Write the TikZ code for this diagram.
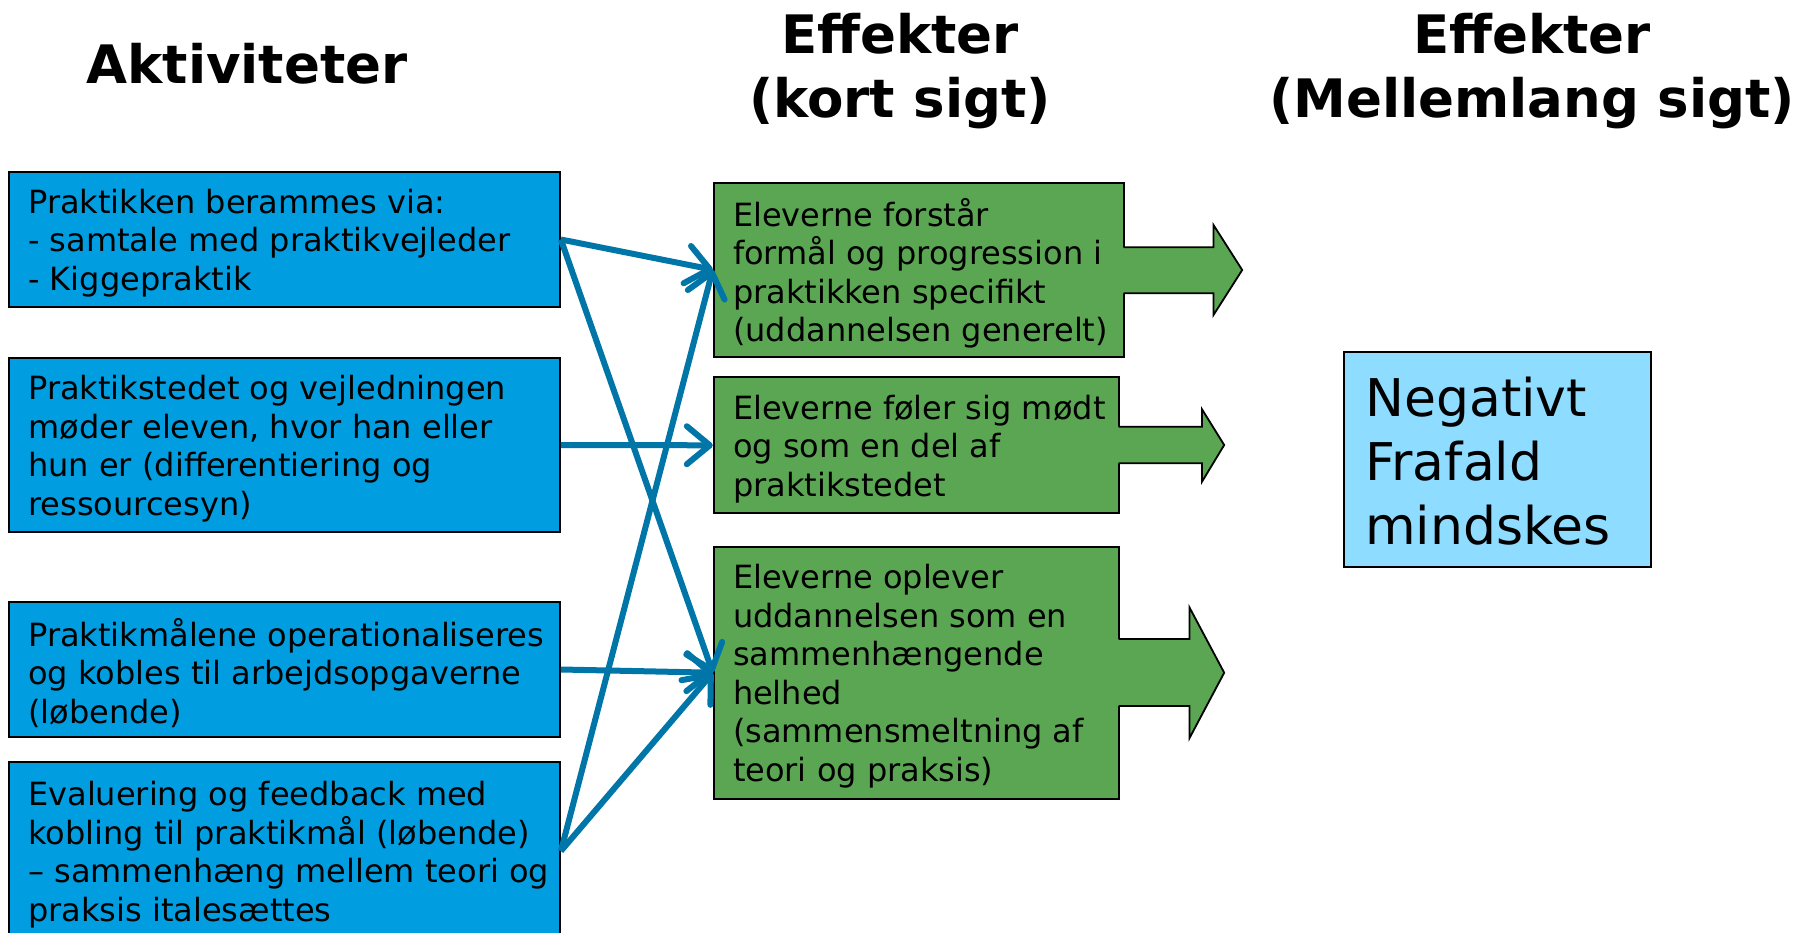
\documentclass[tikz,border=0pt]{standalone}
\usepackage{fontspec}
\setmainfont{DejaVu Sans}
\usetikzlibrary{arrows.meta}
\definecolor{actblue}{RGB}{0,158,224}
\definecolor{effgreen}{RGB}{91,166,82}
\definecolor{lightblue}{RGB}{142,220,255}
\definecolor{arrowblue}{RGB}{0,117,168}
\begin{document}
\begin{tikzpicture}[x=1pt,y=-1pt,
  actbox/.style={draw=black, line width=1.8pt, fill=actblue, minimum width=551pt, inner sep=0pt},
  effbox/.style={draw=black, line width=1.8pt, fill=effgreen, inner sep=0pt},
  outbox/.style={draw=black, line width=1.8pt, fill=lightblue, inner sep=0pt},
  bodytext/.style={anchor=west, align=left, inner sep=0pt, yshift=-3.5pt, font=\fontsize{32}{38.6}\selectfont},
  bigtext/.style={anchor=west, align=left, inner sep=0pt, yshift=-1.5pt, font=\fontsize{52}{64}\selectfont},
  heading/.style={align=center, inner sep=0pt, font=\fontsize{53}{64}\selectfont\bfseries},
  arrowfill/.style={fill=effgreen},
  arrowline/.style={draw=black, line width=1.8pt, line join=miter},
  conn/.style={draw=arrowblue, line width=6pt, -{Straight Barb[length=23pt,width=38pt,round]}}
]
\useasboundingbox (0,0) rectangle (1800,933);
\fill[white] (0,0) rectangle (1800,933);

% headings
\node[heading, anchor=base] (h1) at (247,84) {Aktiviteter};
\node[heading] (h2) at (900,71) {Effekter\\(kort sigt)};
\node[heading] (h3) at (1532,71) {Effekter\\(Mellemlang sigt)};

% activity boxes
\node[actbox, minimum height=135pt] (A1) at (284.5,239.5) {};
\node[bodytext] (tA1) at ([xshift=20pt]A1.west) {Praktikken berammes via:\\- samtale med praktikvejleder\\- Kiggepraktik};
\node[actbox, minimum height=174pt] (A2) at (284.5,445) {};
\node[bodytext] (tA2) at ([xshift=20pt]A2.west) {Praktikstedet og vejledningen\\møder eleven, hvor han eller\\hun er (differentiering og\\ressourcesyn)};
\node[actbox, minimum height=135pt] (A3) at (284.5,669.5) {};
\node[bodytext] (tA3) at ([xshift=20pt]A3.west) {Praktikmålene operationaliseres\\og kobles til arbejdsopgaverne\\(løbende)};
\node[actbox, minimum height=178pt] (A4) at (284.5,851) {};
\node[bodytext] (tA4) at ([xshift=20pt]A4.west) {Evaluering og feedback med\\kobling til praktikmål (løbende)\\– sammenhæng mellem teori og\\praksis italesættes};

% effect boxes
\node[effbox, minimum width=410pt, minimum height=174pt] (G1) at (918.7,269.7) {};
\fill[arrowfill] (1121,247.3) -- (1213.5,247.3) -- (1213.5,225) -- (1242.2,270) -- (1213.5,315) -- (1213.5,293.3) -- (1121,293.3) -- cycle;
\draw[arrowline] (1123.6,247.3) -- (1213.5,247.3) -- (1213.5,225) -- (1242.2,270) -- (1213.5,315) -- (1213.5,293.3) -- (1123.6,293.3);
\node[bodytext] (tG1) at ([xshift=20pt]G1.west) {Eleverne forstår\\formål og progression i\\praktikken specifikt\\(uddannelsen generelt)};

\node[effbox, minimum width=405pt, minimum height=136pt] (G2) at (916.2,445.3) {};
\fill[arrowfill] (1116,426.7) -- (1202,426.7) -- (1202,409.3) -- (1224.2,445) -- (1202,481.7) -- (1202,463.3) -- (1116,463.3) -- cycle;
\draw[arrowline] (1118.6,426.7) -- (1202,426.7) -- (1202,409.3) -- (1224.2,445) -- (1202,481.7) -- (1202,463.3) -- (1118.6,463.3);
\node[bodytext] (tG2) at ([xshift=20pt]G2.west) {Eleverne føler sig mødt\\og som en del af\\praktikstedet};

\node[effbox, minimum width=405pt, minimum height=252pt] (G3) at (916.2,672.7) {};
\fill[arrowfill] (1116,639) -- (1189.4,639) -- (1189.4,607.3) -- (1224.2,672.7) -- (1189.4,738.3) -- (1189.4,706) -- (1116,706) -- cycle;
\draw[arrowline] (1118.6,639) -- (1189.4,639) -- (1189.4,607.3) -- (1224.2,672.7) -- (1189.4,738.3) -- (1189.4,706) -- (1118.6,706);
\node[bodytext] (tG3) at ([xshift=20pt]G3.west) {Eleverne oplever\\uddannelsen som en\\sammenhængende\\helhed\\(sammensmeltning af\\teori og praksis)};

% outcome box
\node[outbox, minimum width=307pt, minimum height=215pt] (N) at (1497.5,459.5) {};
\node[bigtext] (tN) at ([xshift=22pt]N.west) {Negativt\\Frafald\\mindskes};

% connectors
\draw[conn] (A1.east) -- (G1.west);
\draw[conn] (A1.east) -- (G3.west);
\draw[conn] (A2.east) -- (G2.west);
\draw[conn] (A3.east) -- (G3.west);
\draw[conn] (A4.east) -- (G1.west);
\draw[conn] (A4.east) -- (G3.west);
\end{tikzpicture}
\end{document}
